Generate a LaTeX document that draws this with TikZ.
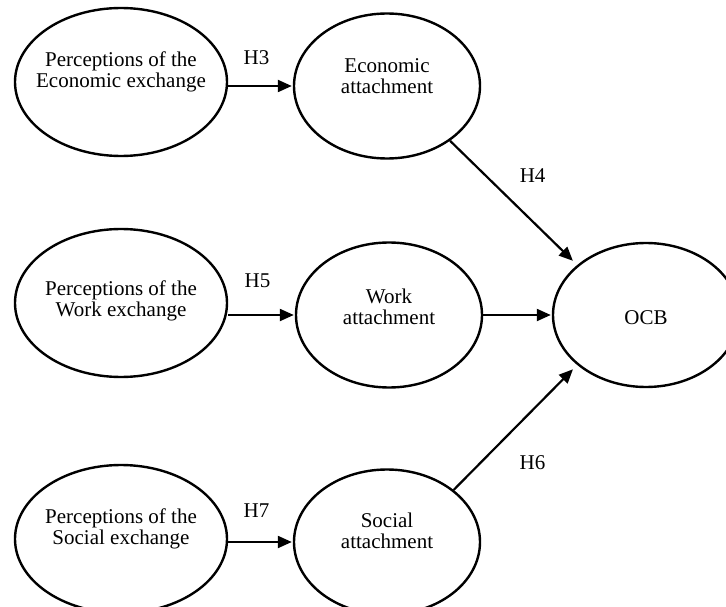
\documentclass[tikz,border=0pt]{standalone}
\usepackage{fontspec}
\setmainfont{Liberation Serif}
\usetikzlibrary{shapes.geometric,arrows.meta}
\begin{document}
\begin{tikzpicture}[x=1pt,y=-1pt] % pixel grid, y goes down
\tikzstyle{myell} = [ellipse, draw, line width=2.4pt, inner sep=0pt, minimum width=186pt, minimum height=145pt] % attachment node style
\tikzstyle{mywide} = [myell, minimum width=212pt, minimum height=148pt] % perception node style
\tikzstyle{mytext} = [align=center, font=\fontsize{21}{20.5}\selectfont, inner sep=0pt] % text inside the ellipse
\tikzstyle{myarrow} = [line width=2.2pt, -{Triangle[length=14pt,width=12pt]}, shorten >=1pt] % path arrow
\tikzstyle{myhyp} = [font=\fontsize{21}{21}\selectfont, inner sep=0pt] % hypothesis label
\useasboundingbox (0,0) rectangle (726,607);
% left column
\node[mywide, label={[mytext, yshift=10pt]center:{Perceptions of the\\Economic exchange}}] (pecon) at (121,82) {};
\node[mywide, label={[mytext, yshift=2pt]center:{Perceptions of the\\Work exchange}}] (pwork) at (121,303) {};
\node[mywide, label={[mytext, yshift=10pt]center:{Perceptions of the\\Social exchange}}] (psoc) at (121,539) {};
% middle column
\node[myell, label={[mytext, yshift=10pt]center:{Economic\\attachment}}] (econ) at (387,86) {};
\node[myell, label={[mytext, yshift=8pt]center:{Work\\attachment}}] (work) at (389,315) {};
\node[myell, label={[mytext, yshift=11pt]center:{Social\\attachment}}] (soc) at (387,542) {};
% outcome
\node[myell, minimum height=144pt, label={[mytext, yshift=-3pt]center:OCB}] (ocb) at (646,315) {};
% paths
\draw[myarrow] (pecon.east |- econ.west) -- (econ.west) node[myhyp, midway, above=20pt, xshift=-4pt] {H3};
\draw[myarrow] (pwork.east |- work.west) -- (work.west) node[myhyp, midway, above=26pt, xshift=-4pt] {H5};
\draw[myarrow] (psoc.east |- soc.west) -- (soc.west) node[myhyp, midway, above=23pt, xshift=-4pt] {H7};
\draw[myarrow, shorten >=6pt] (econ.-41) -- (ocb.144) node[myhyp, midway, xshift=19pt, yshift=27pt] {H4};
\draw[myarrow] (work.east) -- (ocb.west);
\draw[myarrow, shorten >=6pt] (soc.38) -- (ocb.216) node[myhyp, midway, xshift=17pt, yshift=-35pt] {H6};
\end{tikzpicture}
\end{document}
